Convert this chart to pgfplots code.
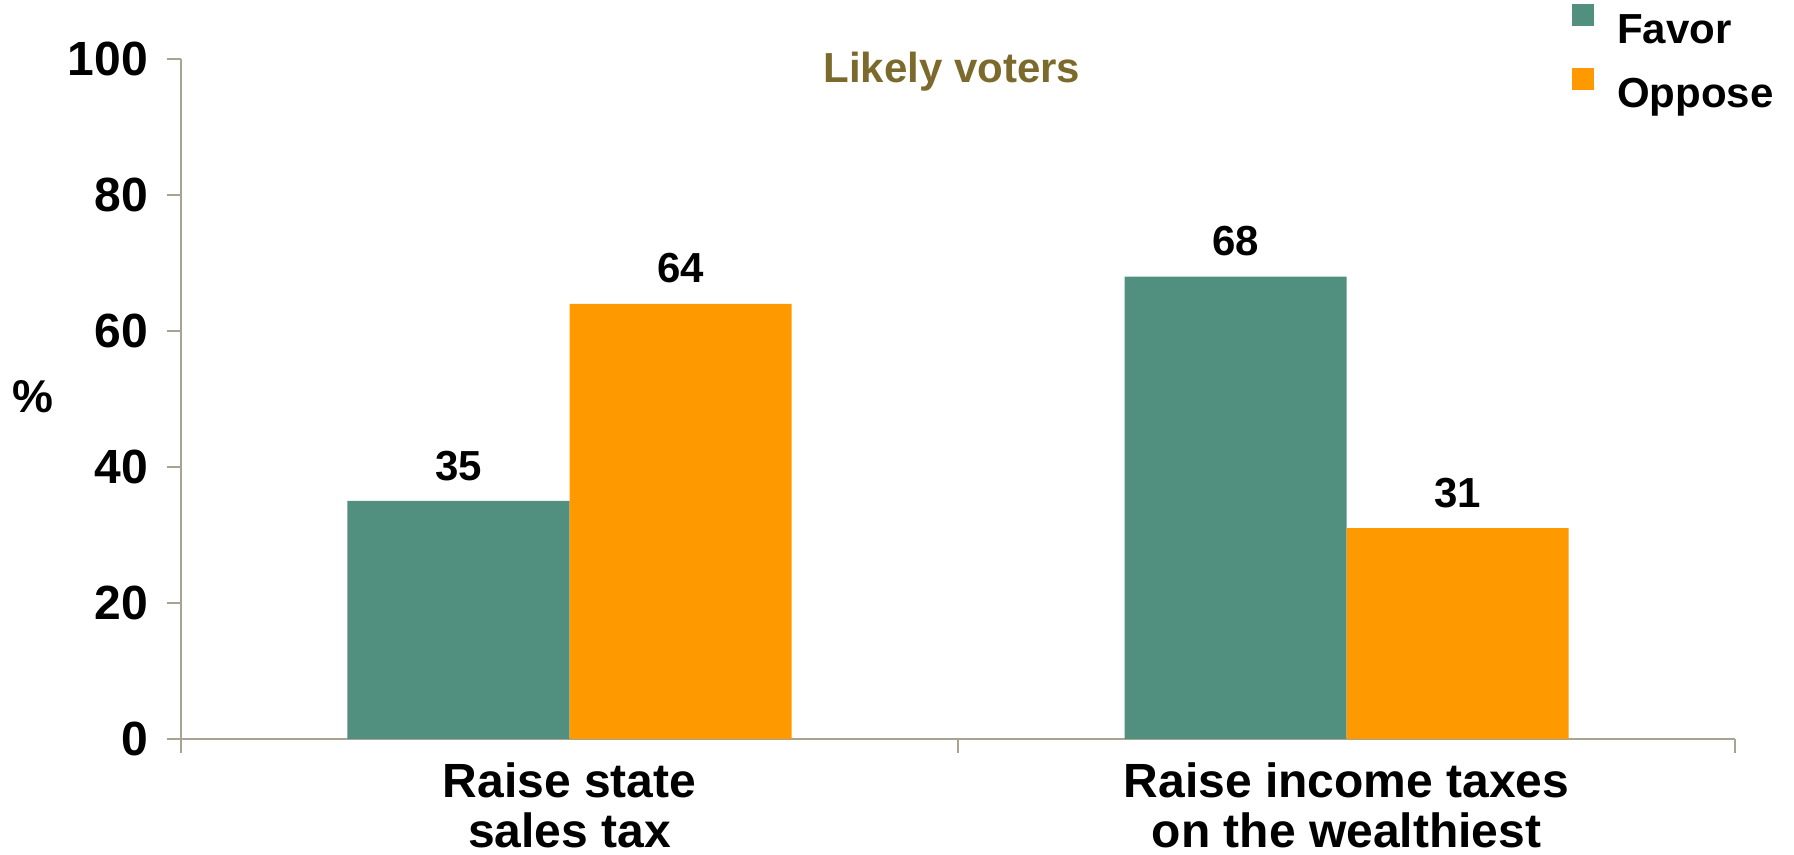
\documentclass[border=0pt]{standalone}
\usepackage{fontspec}
\setmainfont{Liberation Sans}
\usepackage{pgfplots}
\pgfplotsset{compat=1.18}
\usetikzlibrary{calc}
\definecolor{favor}{HTML}{51907F}
\definecolor{oppose}{HTML}{FF9900}
\definecolor{axgray}{HTML}{A9A393}
\definecolor{titlecol}{HTML}{7B6A2C}
\begin{document}
\begin{tikzpicture}
\begin{axis}[
  scale only axis, width=777pt, height=340pt,
  ybar=0pt, bar width=111pt,
  xmin=-0.5, xmax=1.5, ymin=0, ymax=100,
  axis x line*=bottom, axis y line*=left,
  axis line style={axgray, line width=1pt, -},
  tick align=outside, major tick length=7pt,
  tick style={axgray, line width=1pt},
  xtick={-0.5,0.5,1.5}, xticklabels={},
  extra x ticks={0,1},
  extra x tick labels={{Raise state\\sales tax},{Raise income taxes\\on the wealthiest}},
  extra x tick style={major tick length=0pt,
    xticklabel style={align=center, font=\bfseries\fontsize{24}{25}\selectfont, yshift=-8.5pt}},
  ytick={0,20,40,60,80,100},
  /pgf/number format/assume math mode=true,
  yticklabel style={font=\bfseries\fontsize{24}{24}\selectfont, xshift=-6pt},
  every axis y label/.style={at={(rel axis cs:0,0.503)}, anchor=center, xshift=-74pt},
  ylabel={\bfseries\fontsize{23}{23}\selectfont\%},
  nodes near coords,
  every node near coord/.append style={font=\bfseries\fontsize{21}{21}\selectfont, black, inner sep=0pt, yshift=10pt},
  legend style={draw=none, fill=none, at={(rel axis cs:0.895,1.081)}, anchor=north west,
    font=\bfseries\fontsize{21}{21}\selectfont, inner sep=0pt, row sep=11pt, column sep=0pt,
    nodes={inner sep=0pt}},
  legend cell align=left,
  legend image code/.code={\fill[#1] (0pt,2pt) rectangle (11pt,13pt); \path (22.5pt,0pt);},
  clip=false,
]
\addplot[fill=favor, draw=none] coordinates {(0,35) (1,68)};
\addplot[fill=oppose, draw=none] coordinates {(0,64) (1,31)};
\legend{Favor, Oppose}
\node[font=\bfseries\fontsize{21}{21}\selectfont, text=titlecol, anchor=base] at (rel axis cs:0.496,0.966) {Likely voters};
\coordinate (SW) at (rel axis cs:0,0);
\coordinate (NE) at (rel axis cs:1,1);
\end{axis}
\pgfresetboundingbox
\path ($(SW)+(-90.5pt,-58pt)$) rectangle ($(NE)+(29.5pt,29.5pt)$);
\end{tikzpicture}
\end{document}
